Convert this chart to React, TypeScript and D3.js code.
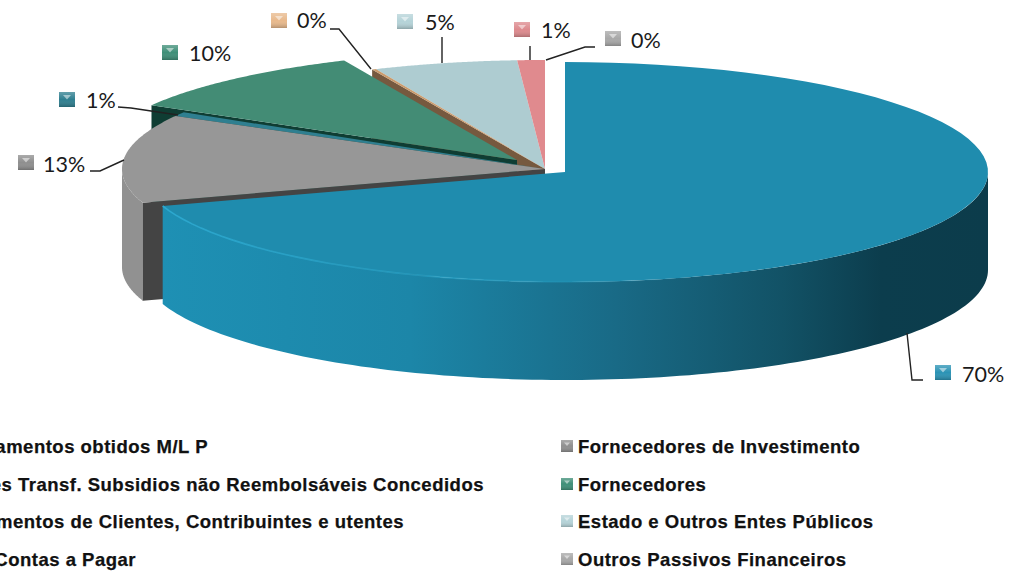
import React from "react";
import * as d3 from "d3";

const names = [
  "Financiamentos obtidos M/L P",
  "Fornecedores de Investimento",
  "Credores Transf. Subsidios não Reembolsáveis Concedidos",
  "Fornecedores",
  "Adiantamentos de Clientes, Contribuintes e utentes",
  "Estado e Outros Entes Públicos",
  "Outras Contas a Pagar",
  "Outros Passivos Financeiros",
];
const values = [70, 13.1, 0.6, 9.6, 0.15, 5.5, 1.05, 0];
const labels = ["70%", "13%", "1%", "10%", "0%", "5%", "1%", "0%"];
const topColors = ["#1f8cae", "#979797", "#2f7f90", "#438c75", "#c99a6c", "#aeccd1", "#e08a8e", "#a6a6a6"];
const wallColors = ["#0c3f4f", "#444444", "#1d5560", "#0f3d33", "#76593f", "#7c979b", "#9a5f62", "#777777"];
const markerColors = ["#2b93b5", "#8f8f8f", "#2f7f90", "#3f8f78", "#e8b98c", "#b5d3d8", "#dd8a8e", "#a8a8a8"];
const centersX = [565, 545, 545, 517, 545, 545, 545, 545];
const centersY = [172, 169, 169, 160, 169, 169, 169, 169];
const startExtend = [0, 0, 0, -1.1, 0, 0, 0, 0];
const RX = 423;
const RY = 109;
const DEPTH = 98;

const markerX = [935, 18, 59, 162, 271, 397, 514, 605];
const markerY = [365, 155, 92, 45, 13, 14, 22, 31];
const labelX = [962, 43, 86, 189, 297, 425, 541, 631];
const labelY = [382, 172, 108, 61, 28, 30, 38, 48];
const leaders: [number, number][][] = [
  [[907, 333], [912, 380], [923, 380]],
  [[90, 171], [100, 171], [124, 160]],
  [[118, 107], [131, 108], [178, 115]],
  [],
  [[330, 29], [339, 29], [371, 69]],
  [[442, 37], [442, 63]],
  [[530, 46], [530, 60]],
  [[595, 47], [585, 47], [546, 60]],
];
const legendRight = [1, 3, 5, 7];
const legendLeft = [0, 2, 4, 6];
const legendLeftEnd = [208, 484, 404, 136];
const legendBaseline = [453, 491, 528, 566];

const deg = Math.PI / 180;

export default function App() {
  const pie = d3.pie<number>().sort(null).value((d) => d);
  const arcs = pie(values).map((a, i) => ({ ...a, startAngle: a.startAngle + startExtend[i] * deg }));

  const pt = (i: number, ang: number): [number, number] => [
    centersX[i] + RX * Math.sin(ang),
    centersY[i] - (i === 0 ? RY + 1 : RY) * Math.cos(ang),
  ];
  const top = (i: number) => {
    const n = 80;
    const s = d3.scaleLinear().domain([0, n]).range([arcs[i].startAngle, arcs[i].endAngle]);
    const p = d3.path();
    p.moveTo(centersX[i], centersY[i]);
    d3.range(n + 1).forEach((k) => p.lineTo(...pt(i, s(k))));
    p.closePath();
    return p.toString();
  };
  const side = (i: number, a0: number, a1: number) => {
    const n = 120;
    const s = d3.scaleLinear().domain([0, n]).range([a0, a1]);
    const fwd = d3.range(n + 1).map((k) => pt(i, s(k)));
    const back = fwd.map(([x, y]) => [x, y + DEPTH] as [number, number]).reverse();
    return d3.line()([...fwd, ...back]) + "Z";
  };
  const wall = (i: number, a: number) => {
    const [x, y] = pt(i, a);
    return d3.line()([
      [centersX[i], centersY[i]],
      [x, y],
      [x, y + DEPTH],
      [centersX[i], centersY[i] + DEPTH],
    ]) + "Z";
  };
  const arcLine = (i: number, a0: number, a1: number) => {
    const s = d3.scaleLinear().domain([0, 60]).range([a0, a1]);
    return d3.line()(d3.range(61).map((k) => pt(i, s(k)))) as string;
  };

  const marker = (i: number, x: number, y: number, w: number, h: number, key: string) => (
    <g key={key}>
      <rect x={x} y={y} width={w} height={h} fill={markerColors[i]} />
      <rect x={x} y={y} width={w} height={h} fill="url(#bevel)" />
      <path d={`M${x + w * 0.25},${y + h * 0.2}H${x + w * 0.75}L${x + w / 2},${y + h * 0.5}Z`} fill="#ffffff" opacity={0.5} />
    </g>
  );
  const legendFont = {
    fontFamily: "'Liberation Sans', Arial, sans-serif",
    fontWeight: 700,
    fontSize: 18.5,
    fill: "#111",
    letterSpacing: 0.5,
    stroke: "#111",
    strokeWidth: 0.25,
  };

  return (
    <svg width={1012} height={572} style={{ position: "absolute", left: 0, top: 0, background: "#fff" }}>
      <defs>
        <linearGradient id="blueSide" gradientUnits="userSpaceOnUse" x1={163} x2={988} y1={0} y2={0}>
          <stop offset="0" stopColor="#1e90b4" />
          <stop offset="0.3" stopColor="#1c86a8" />
          <stop offset="0.55" stopColor="#196a86" />
          <stop offset="0.75" stopColor="#125266" />
          <stop offset="0.87" stopColor="#0c3d4d" />
          <stop offset="1" stopColor="#0c3c4b" />
        </linearGradient>
        <linearGradient id="blueEdge" gradientUnits="userSpaceOnUse" x1={163} x2={700} y1={0} y2={0}>
          <stop offset="0" stopColor="#2ca9d0" />
          <stop offset="0.6" stopColor="#27a0c4" stopOpacity={0.6} />
          <stop offset="1" stopColor="#1f8cae" stopOpacity={0} />
        </linearGradient>
        <linearGradient id="bevel" x1="0" x2="0" y1="0" y2="1">
          <stop offset="0" stopColor="#fff" stopOpacity={0.25} />
          <stop offset="0.5" stopColor="#fff" stopOpacity={0} />
          <stop offset="1" stopColor="#000" stopOpacity={0.22} />
        </linearGradient>
      </defs>

      <path d={top(5)} fill={topColors[5]} />
      <path d={top(6)} fill={topColors[6]} />
      <path d={wall(4, arcs[4].startAngle)} fill={wallColors[4]} />
      <path d={top(4)} fill={topColors[4]} />
      <path d={wall(3, arcs[3].startAngle)} fill={wallColors[3]} />
      <path d={top(2)} fill={topColors[2]} />
      <path d={side(1, 252 * deg, 270 * deg)} fill="#919191" />
      <path d={wall(1, arcs[1].startAngle)} fill={wallColors[1]} />
      <path d={top(1)} fill={topColors[1]} />
      <path d={top(3)} fill={topColors[3]} />
      <path d={side(0, 90 * deg, arcs[0].endAngle)} fill="url(#blueSide)" />
      <path d={top(0)} fill={topColors[0]} />
      <path d={arcLine(0, arcs[0].endAngle, 100 * deg)} fill="none" stroke="url(#blueEdge)" strokeWidth={1.6} />

      {leaders.map((l, i) =>
        l.length ? <path key={i} d={d3.line()(l) as string} fill="none" stroke="#222" strokeWidth={1.4} /> : null
      )}
      {values.map((_, i) => marker(i, markerX[i], markerY[i], 16, 15, `m${i}`))}
      {labels.map((t, i) => (
        <text key={i} x={labelX[i]} y={labelY[i]} fontFamily="Lato, sans-serif" fontSize={21.5} fill="#1a1a1a">
          {t}
        </text>
      ))}

      {legendRight.map((s, r) => (
        <g key={s}>
          {marker(s, 561, legendBaseline[r] - 13, 12, 12, `l${s}`)}
          <text x={578} y={legendBaseline[r]} {...legendFont}>
            {names[s]}
          </text>
        </g>
      ))}
      {legendLeft.map((s, r) => (
        <text key={s} x={legendLeftEnd[r]} y={legendBaseline[r]} textAnchor="end" {...legendFont}>
          {names[s]}
        </text>
      ))}
    </svg>
  );
}
